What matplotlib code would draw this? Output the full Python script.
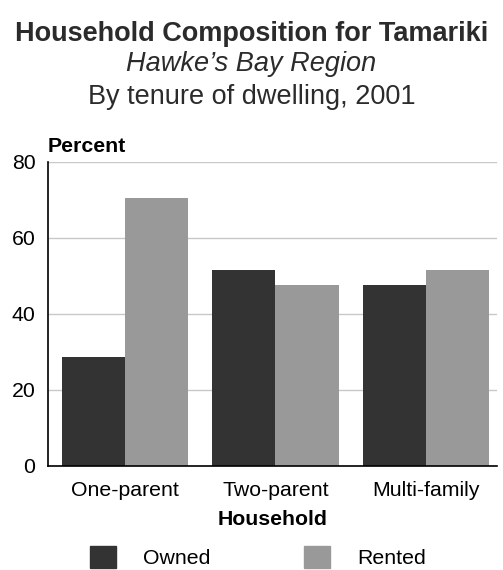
import numpy as np
import matplotlib
matplotlib.use('Agg')
import matplotlib.pyplot as plt
from matplotlib.patches import Patch

plt.rcParams['font.family'] = ['Liberation Sans', 'DejaVu Sans']

# data
households = ['One-parent', 'Two-parent', 'Multi-family']
owned = [28.6, 51.6, 47.6]
rented = [70.5, 47.6, 51.6]
y_ticks = [0, 20, 40, 60, 80]

dark = '#333333'
light = '#999999'
fs = 15.3

fig = plt.figure(figsize=(5.03, 5.70), dpi=100)
ax = fig.add_axes([0.0954, 0.1825, 0.8926, 0.5333])

x = np.arange(len(households))
w = 0.42
ax.bar(x - w / 2, owned, width=w, color=dark, zorder=2)
ax.bar(x + w / 2, rented, width=w, color=light, zorder=2)

ax.set_xlim(-0.51, 2.47)
ax.set_ylim(0, 80)
ax.set_yticks(y_ticks)
ax.set_xticks(x)
ax.set_xticklabels(households, fontsize=fs)
ax.tick_params(axis='y', labelsize=fs, length=0, pad=9)
ax.tick_params(axis='x', length=0, pad=11)
ax.yaxis.grid(True, color='#c8c8c8', linewidth=1, zorder=0)
ax.set_axisbelow(True)
for s in ['top', 'right']:
    ax.spines[s].set_visible(False)
ax.spines['left'].set_color('black')
ax.spines['bottom'].set_color('black')
ax.spines['left'].set_linewidth(1.2)
ax.spines['bottom'].set_linewidth(1.2)

ax.set_xlabel('Household', fontsize=fs, fontweight='bold', labelpad=7)
ax.text(0.0, 1.02, 'Percent', transform=ax.transAxes, fontsize=fs,
        fontweight='bold', ha='left', va='bottom')

fig.text(0.5, 0.941, 'Household Composition for Tamariki', ha='center',
         va='center', fontsize=19.5, fontweight='bold', color='#2b2b2b')
fig.text(0.499, 0.888, 'Hawke\u2019s Bay Region', ha='center', va='center',
         fontsize=19.5, style='italic', color='#2b2b2b')
fig.text(0.5, 0.830, 'By tenure of dwelling, 2001', ha='center',
         va='center', fontsize=19.5, color='#2b2b2b')

handles = [Patch(color=dark, label='Owned'), Patch(color=light, label='Rented')]
fig.legend(handles=handles, loc='center', bbox_to_anchor=(0.513, 0.023), ncol=2,
           frameon=False, fontsize=fs, handlelength=1.22, handleheight=1.22,
           handletextpad=1.27, columnspacing=4.4)

fig.savefig('out.png', dpi=100)
